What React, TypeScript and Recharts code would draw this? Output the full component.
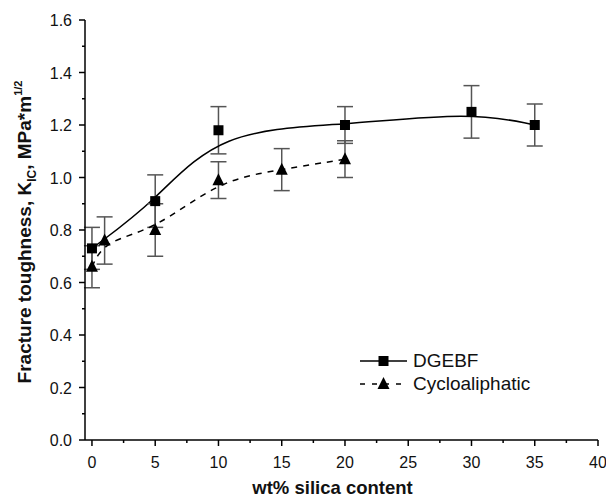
import {
  ComposedChart,
  Line,
  XAxis,
  YAxis,
  ErrorBar,
} from 'recharts';

// DGEBF: silica wt%, K_IC, error
const dgebfX = [0, 5, 10, 20, 30, 35];
const dgebfY = [0.73, 0.91, 1.18, 1.2, 1.25, 1.2];
const dgebfErr = [0.08, 0.1, 0.09, 0.07, 0.1, 0.08];

// Cycloaliphatic
const cycloX = [0, 1, 5, 10, 15, 20];
const cycloY = [0.66, 0.76, 0.8, 0.99, 1.03, 1.07];
const cycloErr = [0.08, 0.09, 0.1, 0.07, 0.08, 0.07];

const xTicks = [0, 2.5, 5, 7.5, 10, 12.5, 15, 17.5, 20, 22.5, 25, 27.5, 30, 32.5, 35, 37.5, 40];
const yTicks = [0, 0.1, 0.2, 0.3, 0.4, 0.5, 0.6, 0.7, 0.8, 0.9, 1.0, 1.1, 1.2, 1.3, 1.4, 1.5, 1.6];

const dgebfData = dgebfX.map((x, i) => ({ x, y: dgebfY[i], err: dgebfErr[i] }));
const cycloData = cycloX.map((x, i) => ({ x, y: cycloY[i], err: cycloErr[i] }));

const FONT = 'Liberation Sans, Arial, sans-serif';
const TICK_SIZE = 6;
const TICK_MARGIN = 7;

function SquareDot(props: any) {
  const { cx, cy } = props;
  if (cx == null || cy == null) return null;
  return <rect x={cx - 5} y={cy - 5} width={10} height={10} fill="#000" />;
}

function TriangleDot(props: any) {
  const { cx, cy } = props;
  if (cx == null || cy == null) return null;
  return <polygon points={`${cx},${cy - 7} ${cx + 6},${cy + 5} ${cx - 6},${cy + 5}`} fill="#000" />;
}

function YTick(props: any) {
  const { x, y, payload } = props;
  const v = payload.value as number;
  const major = Math.abs(Math.round(v * 10) % 2) === 0;
  const axisX = x + TICK_MARGIN + TICK_SIZE;
  return (
    <g>
      <line x1={axisX} x2={axisX - (major ? 6 : 3)} y1={y} y2={y} stroke="#000" strokeWidth={1.5} />
      {major && (
        <text x={x} y={y} dy={6} textAnchor="end" fontSize={16} fontFamily={FONT} fill="#111">
          {v.toFixed(1)}
        </text>
      )}
    </g>
  );
}

function XTick(props: any) {
  const { x, y, payload } = props;
  const v = payload.value as number;
  const major = v % 5 === 0;
  const axisY = y - TICK_MARGIN - TICK_SIZE;
  return (
    <g>
      <line x1={x} x2={x} y1={axisY} y2={axisY + (major ? 6 : 3)} stroke="#000" strokeWidth={1.5} />
      {major && (
        <text x={x} y={axisY} dy={28} textAnchor="middle" fontSize={16} fontFamily={FONT} fill="#111">
          {v}
        </text>
      )}
    </g>
  );
}

function XTitle(props: any) {
  const { viewBox } = props;
  const cx = viewBox.x + viewBox.width / 2 - 9;
  return (
    <text x={cx} y={494} textAnchor="middle" fontSize={18.5} fontWeight="bold" fontFamily={FONT} fill="#111">
      wt% silica content
    </text>
  );
}

function YTitle(props: any) {
  const { viewBox } = props;
  const cy = viewBox.y + viewBox.height / 2 + 2;
  const cx = 31;
  return (
    <text
      x={cx}
      y={cy}
      transform={`rotate(-90, ${cx}, ${cy})`}
      textAnchor="middle"
      fontSize={19}
      fontWeight="bold"
      fontFamily={FONT}
      fill="#111"
    >
      Fracture toughness, K
      <tspan fontSize={12} dy={5}>IC</tspan>
      <tspan dy={-5}>, MPa*m</tspan>
      <tspan fontSize={11} dy={-9}>1/2</tspan>
    </text>
  );
}

function LegendBox() {
  const rows = [
    { name: 'DGEBF', dash: undefined, marker: 'square' },
    { name: 'Cycloaliphatic', dash: '5 7', marker: 'triangle' },
  ];
  return (
    <div style={{ position: 'absolute', left: 358, top: 349, fontFamily: FONT, fontSize: 19, color: '#111' }}>
      {rows.map((r) => (
        <div key={r.name} style={{ display: 'flex', alignItems: 'center', height: 23 }}>
          <svg width={52} height={16}>
            <line x1={2} x2={49} y1={8} y2={8} stroke="#000" strokeWidth={1.5} strokeDasharray={r.dash} />
            {r.marker === 'square' ? (
              <rect x={20.5} y={3} width={10} height={10} fill="#000" />
            ) : (
              <polygon points="25.5,1 31.5,13 19.5,13" fill="#000" />
            )}
          </svg>
          <span style={{ marginLeft: 3 }}>{r.name}</span>
        </div>
      ))}
    </div>
  );
}

export default function App() {
  return (
    <div style={{ position: 'absolute', left: 0, top: 0, width: 606, height: 499, background: '#fff' }}>
      <ComposedChart width={606} height={499} margin={{ top: 20, right: 8, left: 0, bottom: 0 }}>
        <XAxis
          xAxisId="main"
          dataKey="x"
          type="number"
          domain={[-0.55, 40]}
          ticks={xTicks}
          interval={0}
          allowDuplicatedCategory={false}
          axisLine={{ stroke: '#000', strokeWidth: 1.5 }}
          tickLine={false}
          tickSize={TICK_SIZE}
          tickMargin={TICK_MARGIN}
          tick={<XTick />}
          height={59}
          label={<XTitle />}
        />
        <XAxis
          xAxisId="top"
          orientation="top"
          type="number"
          domain={[-0.55, 40]}
          tick={false}
          tickLine={false}
          axisLine={{ stroke: '#000', strokeWidth: 1.5 }}
          height={0}
        />
        <YAxis
          yAxisId="main"
          type="number"
          domain={[0, 1.6]}
          ticks={yTicks}
          interval={0}
          axisLine={{ stroke: '#000', strokeWidth: 1.5 }}
          tickLine={false}
          tickSize={TICK_SIZE}
          tickMargin={TICK_MARGIN}
          tick={<YTick />}
          width={85}
          label={<YTitle />}
        />
        <YAxis
          yAxisId="right"
          orientation="right"
          type="number"
          domain={[0, 1.6]}
          tick={false}
          tickLine={false}
          axisLine={{ stroke: '#000', strokeWidth: 1.5 }}
          width={0}
        />
        <Line
          xAxisId="main"
          yAxisId="main"
          data={dgebfData}
          dataKey="y"
          type="basis"
          stroke="#000"
          strokeWidth={1.5}
          dot={<SquareDot />}
          activeDot={false}
          isAnimationActive={false}
          name="DGEBF"
        >
          <ErrorBar dataKey="err" direction="y" width={8} stroke="#555" strokeWidth={1.5} />
        </Line>
        <Line
          xAxisId="main"
          yAxisId="main"
          data={cycloData}
          dataKey="y"
          type="basis"
          stroke="#000"
          strokeWidth={1.5}
          strokeDasharray="6 6"
          dot={<TriangleDot />}
          activeDot={false}
          isAnimationActive={false}
          name="Cycloaliphatic"
        >
          <ErrorBar dataKey="err" direction="y" width={8} stroke="#555" strokeWidth={1.5} />
        </Line>
      </ComposedChart>
      <LegendBox />
    </div>
  );
}
